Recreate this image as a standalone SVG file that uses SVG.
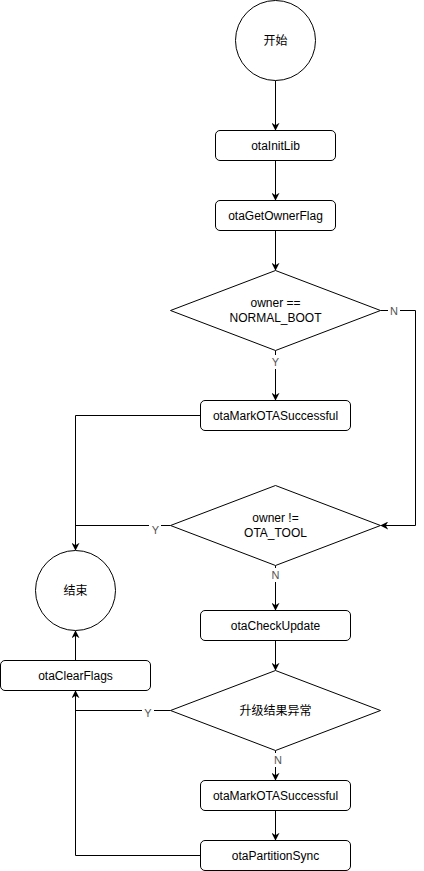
<svg xmlns="http://www.w3.org/2000/svg" width="424" height="871" viewBox="0 0 424 871">
<defs>
<style>
.n{fill:#fff;stroke:#000;stroke-width:1}
.t{font-family:"Liberation Sans","Noto Sans CJK SC",sans-serif;font-size:12px;fill:#000;text-anchor:middle;dominant-baseline:central}
.e{fill:none;stroke:#000;stroke-width:1}
.l{font-family:"Liberation Sans",sans-serif;font-size:11px;fill:#555;text-anchor:middle;dominant-baseline:central}
.lb{fill:#fff;stroke:none}
</style>
<marker id="a" viewBox="0 0 10 10" refX="9" refY="5" markerWidth="8" markerHeight="8" markerUnits="userSpaceOnUse" orient="auto">
<path d="M0,0 L10,5 L0,10 L3,5 Z" fill="#000"/>
</marker>
</defs>
<rect width="424" height="871" fill="#fff"/>
<g id="connectors">
<path class="e" d="M275.5,80.5 V130" marker-end="url(#a)"/>
<path class="e" d="M275.5,160.5 V200" marker-end="url(#a)"/>
<path class="e" d="M275.5,230.5 V270" marker-end="url(#a)"/>
<path class="e" d="M380.5,310.5 H415.5 V525.5 H381" marker-end="url(#a)"/>
<path class="e" d="M275.5,350.5 V400" marker-end="url(#a)"/>
<path class="e" d="M200.5,415.5 H75.5 V550" marker-end="url(#a)"/>
<path class="e" d="M170.5,525.5 H75.5"/>
<path class="e" d="M275.5,565.5 V610" marker-end="url(#a)"/>
<path class="e" d="M275.5,640.5 V670" marker-end="url(#a)"/>
<path class="e" d="M75.5,660.5 V631" marker-end="url(#a)"/>
<path class="e" d="M170.5,710.5 H75.5"/>
<path class="e" d="M200.5,855.5 H75.5 V691" marker-end="url(#a)"/>
<path class="e" d="M275.5,750.5 V780" marker-end="url(#a)"/>
<path class="e" d="M275.5,810.5 V840" marker-end="url(#a)"/>
<rect class="lb" x="388" y="303" width="12" height="14"/>
<text class="l" x="394" y="310.5">N</text>
<rect class="lb" x="269" y="355" width="12" height="14"/>
<text class="l" x="275.5" y="362">Y</text>
<rect class="lb" x="149" y="523" width="12" height="14"/>
<text class="l" x="155.5" y="530">Y</text>
<rect class="lb" x="269" y="568" width="12" height="14"/>
<text class="l" x="275.5" y="575">N</text>
<rect class="lb" x="142" y="706" width="12" height="14"/>
<text class="l" x="148" y="713">Y</text>
<rect class="lb" x="272" y="753" width="12" height="14"/>
<text class="l" x="278" y="760">N</text>
</g>
<g id="start"><circle class="n" cx="275.5" cy="40.5" r="40"/><text class="t" x="275.5" y="40.5">开始</text></g>
<g id="initLib"><rect class="n" x="215.5" y="130.5" width="120" height="30" rx="4.5"/><text class="t" x="275.5" y="145.5">otaInitLib</text></g>
<g id="getOwner"><rect class="n" x="215.5" y="200.5" width="120" height="30" rx="4.5"/><text class="t" x="275.5" y="215.5">otaGetOwnerFlag</text></g>
<g id="d1"><path class="n" d="M275.5,270.5 L380.5,310.5 L275.5,350.5 L170.5,310.5 Z"/><text class="t" x="275.5" y="303">owner ==</text><text class="t" x="275.5" y="318">NORMAL_BOOT</text></g>
<g id="mark1"><rect class="n" x="200.5" y="400.5" width="150" height="30" rx="4.5"/><text class="t" x="275.5" y="415.5">otaMarkOTASuccessful</text></g>
<g id="d2"><path class="n" d="M275.5,485.5 L380.5,525.5 L275.5,565.5 L170.5,525.5 Z"/><text class="t" x="275.5" y="518">owner !=</text><text class="t" x="275.5" y="533">OTA_TOOL</text></g>
<g id="end"><circle class="n" cx="75.5" cy="590.5" r="40"/><text class="t" x="75.5" y="590.5">结束</text></g>
<g id="check"><rect class="n" x="200.5" y="610.5" width="150" height="30" rx="4.5"/><text class="t" x="275.5" y="625.5">otaCheckUpdate</text></g>
<g id="clear"><rect class="n" x="0.5" y="660.5" width="150" height="30" rx="4.5"/><text class="t" x="75.5" y="675.5">otaClearFlags</text></g>
<g id="d3"><path class="n" d="M275.5,670.5 L380.5,710.5 L275.5,750.5 L170.5,710.5 Z"/><text class="t" x="275.5" y="710.5">升级结果异常</text></g>
<g id="mark2"><rect class="n" x="200.5" y="780.5" width="150" height="30" rx="4.5"/><text class="t" x="275.5" y="795.5">otaMarkOTASuccessful</text></g>
<g id="sync"><rect class="n" x="200.5" y="840.5" width="150" height="30" rx="4.5"/><text class="t" x="275.5" y="855.5">otaPartitionSync</text></g>
</svg>
